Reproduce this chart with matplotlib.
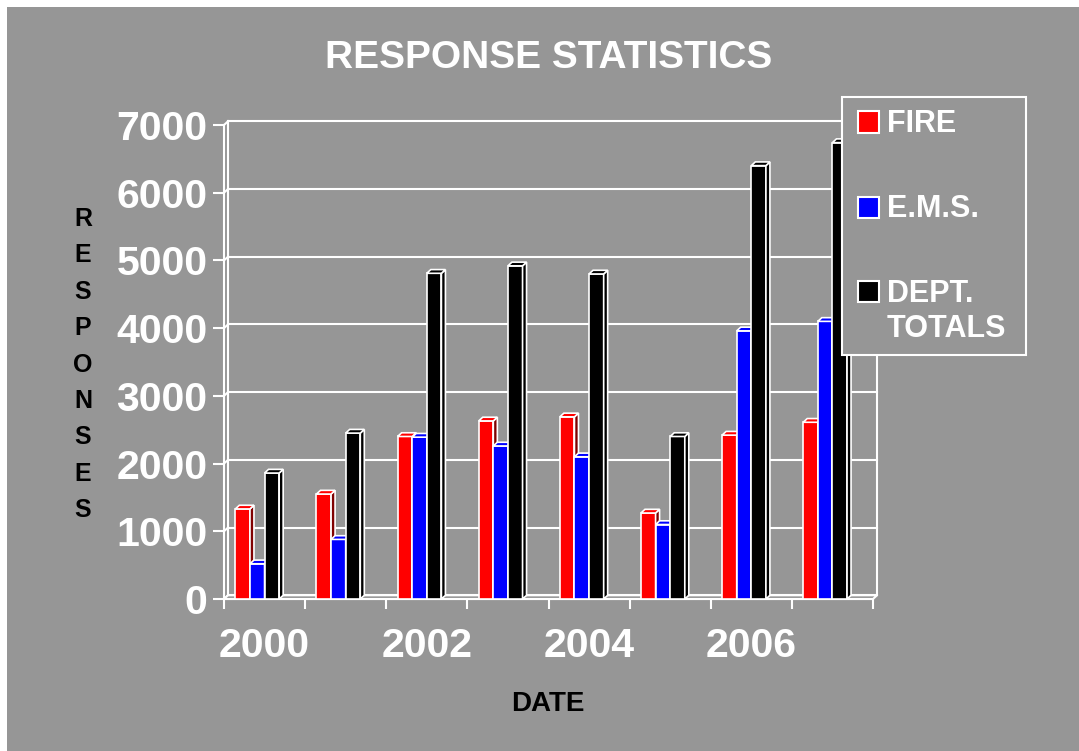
import numpy as np
import matplotlib
matplotlib.use("Agg")
import matplotlib.pyplot as plt
from matplotlib.patches import Polygon, Rectangle

plt.rcParams["font.family"] = ["Liberation Sans", "DejaVu Sans"]
plt.rcParams["font.weight"] = "bold"

# data
years = [2000, 2001, 2002, 2003, 2004, 2005, 2006, 2007]
fire = [1330, 1550, 2400, 2630, 2690, 1270, 2420, 2610]
ems = [520, 880, 2390, 2260, 2100, 1100, 3960, 4100]
totals = [1860, 2450, 4810, 4920, 4800, 2400, 6400, 6740]
labels = ["FIRE", "E.M.S.", "DEPT.\nTOTALS"]
tick_years = ["2000", "2002", "2004", "2006"]
yticks = [0, 1000, 2000, 3000, 4000, 5000, 6000, 7000]

front = ["#ff0000", "#0000ff", "#000000"]
side = ["#800000", "#000080", "#000000"]
GRAY = "#969696"

W, H = 1079, 751
fig = plt.figure(figsize=(W / 100, H / 100), dpi=100, facecolor="white")
fig.patches.append(Rectangle((7 / W, 0), 1 - 7 / W, (H - 7) / H, transform=fig.transFigure,
                             facecolor=GRAY, edgecolor="none", zorder=-5))

ax = fig.add_axes([224 / W, (H - 599) / H, 649 / W, 474 / H])
ax.set_facecolor("none")
ax.set_xlim(-0.5, len(years) - 0.5)
ax.set_ylim(0, 7000)
for s in ax.spines.values():
    s.set_visible(False)

# fake 3d depth (about 4 px)
dx = 4 * len(years) / 649
dy = 3.7 * 7000 / 474
x0, x1 = -0.5, len(years) - 0.5
kw = dict(color="white", lw=1.5, clip_on=False, zorder=1)

# back wall + floor
for v in yticks:
    ax.plot([x0 + dx, x1 + dx], [v + dy, v + dy], **kw)
    ax.plot([x0, x0 + dx], [v, v + dy], **kw)
ax.plot([x0 + dx, x0 + dx], [dy, 7000 + dy], **kw)
ax.plot([x1 + dx, x1 + dx], [dy, 7000 + dy], **kw)
ax.add_patch(Polygon([(x0, 0), (x1, 0), (x1 + dx, dy), (x0 + dx, dy)], closed=True,
                     facecolor=GRAY, edgecolor="white", lw=1.5, clip_on=False, zorder=1.5))
ax.plot([x0, x0], [0, 7000], **kw)
ax.plot([x0, x1], [0, 0], **kw)

# bars
w = 0.18
offs = [-0.36, -0.18, 0.0]
xs = np.arange(len(years))
for k, vals in enumerate([fire, ems, totals]):
    z = 3 + k
    left = xs + offs[k]
    ax.bar(left, vals, width=w, align="edge", color=front[k], edgecolor="white",
           lw=1.2, zorder=z, clip_on=False)
    for xl, v in zip(left, vals):
        ax.add_patch(Polygon([(xl + w, 0), (xl + w + dx, dy), (xl + w + dx, v + dy), (xl + w, v)],
                             closed=True, facecolor=side[k], edgecolor="white", lw=1.2,
                             zorder=z, clip_on=False))
        ax.add_patch(Polygon([(xl, v), (xl + w, v), (xl + w + dx, v + dy), (xl + dx, v + dy)],
                             closed=True, facecolor=front[k], edgecolor="white", lw=1.2,
                             zorder=z, clip_on=False))

# ticks
ax.set_yticks(yticks)
ax.set_yticklabels([str(v) for v in yticks])
ax.tick_params(axis="y", direction="out", length=8, width=1.5, color="white", pad=4,
               labelsize=29.5, labelcolor="white")
ax.set_xticks(np.arange(x0, x1 + 0.01, 1))
ax.tick_params(axis="x", which="major", direction="out", length=7, width=1.5,
               color="white", labelbottom=False)
ax.set_xticks([years.index(int(t)) for t in tick_years], minor=True)
ax.set_xticklabels(tick_years, minor=True)
ax.tick_params(axis="x", which="minor", length=0, pad=20, labelsize=29.5, labelcolor="white")

# titles
fig.text(549 / W, 1 - 68 / H, "RESPONSE STATISTICS", ha="center", va="baseline",
         fontsize=28, color="white")
fig.text(548 / W, 1 - 711 / H, "DATE", ha="center", va="baseline", fontsize=20, color="black")
for j, ch in enumerate("RESPONSES"):
    fig.text(83 / W, 1 - (226 + j * 36.4) / H, ch, ha="center", va="baseline",
             fontsize=18, color="black")

# legend (drawn by hand, sits over the last bar)
fig.patches.append(Rectangle((842 / W, 1 - 355 / H), 184 / W, 258 / H, transform=fig.transFigure,
                             facecolor=GRAY, edgecolor="white", lw=1.5, zorder=5))
leg_y = [122, 207, 292]
for k, lab in enumerate(labels):
    cy = leg_y[k]
    fig.patches.append(Rectangle((858 / W, 1 - (cy + 10.5) / H), 21 / W, 21 / H,
                                 transform=fig.transFigure, facecolor=front[k],
                                 edgecolor="white", lw=1.5, zorder=6))
    for n, line in enumerate(lab.split("\n")):
        fig.text(887 / W, 1 - (cy + 10 + n * 35) / H, line, ha="left", va="baseline",
                 fontsize=22, color="white", zorder=7)

fig.savefig("out.png", dpi=100, facecolor="white")
